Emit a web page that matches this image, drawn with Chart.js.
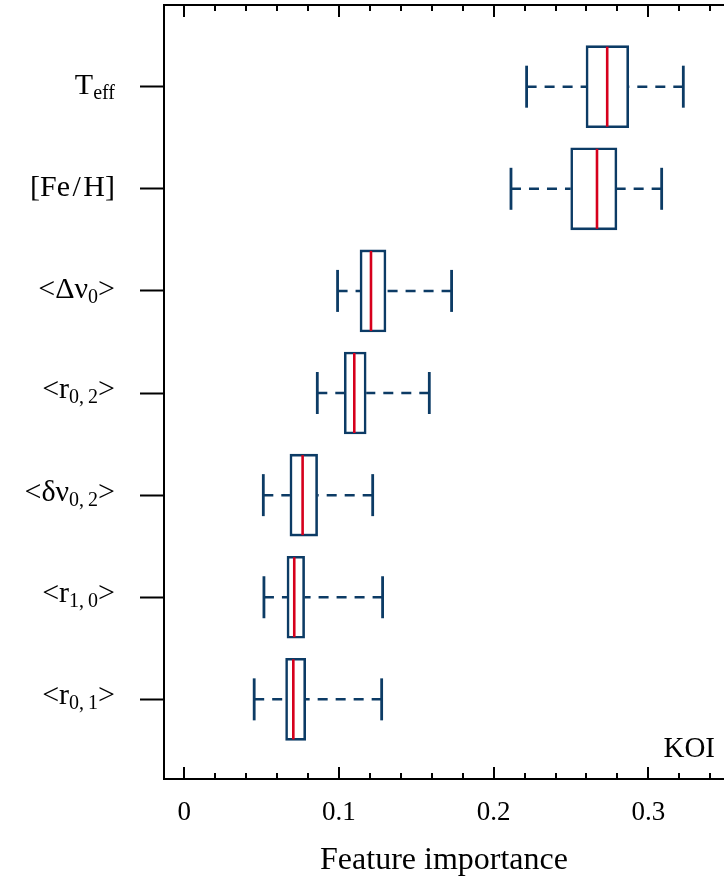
<!DOCTYPE html>
<html><head><meta charset="utf-8">
<script src="https://cdn.jsdelivr.net/npm/chart.js@4.4.1/dist/chart.umd.min.js"></script>
<style>html,body{margin:0;padding:0;background:#fff;overflow:hidden}canvas{display:block}</style>
</head><body>
<canvas id="c" width="724" height="884"></canvas>
<script>
// ---- data ----
const categories = ['Teff', '[Fe/H]', '<Δν0>', '<r0,2>', '<δν0,2>', '<r1,0>', '<r0,1>'];
const labelMain  = ['T', '[Fe\u200A/\u200AH]', '<Δν', '<r', '<δν', '<r', '<r'];
const labelSub   = ['eff', '', '0', '0,\u20092', '0,\u20092', '1,\u20090', '0,\u20091'];
const labelTail  = ['', '', '>', '>', '>', '>', '>'];
const whiskerLow  = [0.2213, 0.2112, 0.0991, 0.0860, 0.0511, 0.0515, 0.0452];
const q1          = [0.2597, 0.2498, 0.1136, 0.1034, 0.0683, 0.0664, 0.0655];
const median      = [0.2734, 0.2668, 0.1207, 0.1099, 0.0765, 0.0711, 0.0705];
const q3          = [0.2873, 0.2797, 0.1304, 0.1176, 0.0862, 0.0778, 0.0785];
const whiskerHigh = [0.3226, 0.3086, 0.1728, 0.1584, 0.1218, 0.1282, 0.1276];
const xTickValues = [0, 0.1, 0.2, 0.3];
const xTickLabels = ['0', '0.1', '0.2', '0.3'];
const xMinorStep = 0.02;
const xTitle = 'Feature importance';
const panelLabel = 'KOI';

// ---- styling ----
const NAVY = '#0c3b65';
const RED = '#d6001c';
const FONT = "'Liberation Serif', 'Times New Roman', serif";
const XMIN = -0.0131, XMAX = 0.3489;

const datasets = [];
datasets.push({
  type: 'bar', indexAxis: 'y', order: 3,
  data: categories.map((c, i) => ({ x: [q1[i], q3[i]], y: i })),
  backgroundColor: '#ffffff', borderColor: NAVY, borderWidth: 2.6,
  borderSkipped: false, barThickness: 82
});
categories.forEach((c, i) => {
  [[whiskerLow[i], q1[i]], [whiskerHigh[i], q3[i]]].forEach(seg => {
    datasets.push({
      type: 'scatter', showLine: true, order: 4,
      data: [{ x: seg[0], y: i }, { x: seg[1], y: i }],
      borderColor: NAVY, borderWidth: 2.5, borderDash: [10, 8],
      pointRadius: 0
    });
  });
});
datasets.push({
  type: 'scatter', order: 2,
  data: categories.flatMap((c, i) => [{ x: whiskerLow[i], y: i }, { x: whiskerHigh[i], y: i }]),
  pointStyle: 'line', pointRotation: 90, pointRadius: 21,
  pointBorderColor: NAVY, pointBorderWidth: 2.8, pointBackgroundColor: NAVY
});
datasets.push({
  type: 'scatter', order: 1,
  data: categories.map((c, i) => ({ x: median[i], y: i })),
  pointStyle: 'line', pointRotation: 90, pointRadius: 40,
  pointBorderColor: RED, pointBorderWidth: 2.6, pointBackgroundColor: RED
});

const zeroPad = s => { s.paddingLeft = 0; s.paddingRight = 0; s.paddingTop = 0; s.paddingBottom = 0; };

const decorPlugin = {
  id: 'decor',
  afterDraw(chart) {
    const { ctx, chartArea } = chart;
    const xs = chart.scales.x, ys = chart.scales.y;
    ctx.save();
    // inward minor/major ticks on top and bottom x axes
    ctx.strokeStyle = '#000'; ctx.lineWidth = 2;
    const n = Math.floor(XMAX / xMinorStep + 1e-9);
    for (let k = 0; k <= n; k++) {
      const v = k * xMinorStep;
      const px = Math.round(xs.getPixelForValue(v));
      const len = (k % 5 === 0) ? 12 : 6;
      ctx.beginPath();
      ctx.moveTo(px, chartArea.bottom); ctx.lineTo(px, chartArea.bottom - len);
      ctx.moveTo(px, chartArea.top); ctx.lineTo(px, chartArea.top + len);
      ctx.stroke();
    }
    // y category labels with subscripts, bbox-centred on the tick
    ctx.fillStyle = '#000';
    ctx.textBaseline = 'alphabetic';
    ctx.textAlign = 'left';
    const mainFont = '30px ' + FONT, subFont = '20px ' + FONT;
    const SHIFT = 5;
    categories.forEach((c, i) => {
      const y = ys.getPixelForValue(i);
      let A = 0, D = 0;
      ctx.font = mainFont;
      const m1 = ctx.measureText(labelMain[i]), m3 = ctx.measureText(labelTail[i]);
      A = Math.max(m1.actualBoundingBoxAscent, m3.actualBoundingBoxAscent || 0);
      D = Math.max(m1.actualBoundingBoxDescent, m3.actualBoundingBoxDescent || 0);
      ctx.font = subFont;
      const m2 = ctx.measureText(labelSub[i]);
      if (labelSub[i]) {
        A = Math.max(A, m2.actualBoundingBoxAscent - SHIFT);
        D = Math.max(D, m2.actualBoundingBoxDescent + SHIFT);
      }
      const w1 = m1.width, w2 = m2.width, w3 = m3.width;
      const right = 115;
      let x = right - (w1 + w2 + w3);
      const base = y + (A - D) / 2;
      ctx.font = mainFont; ctx.fillText(labelMain[i], x, base); x += w1;
      ctx.font = subFont; ctx.fillText(labelSub[i], x, base + SHIFT); x += w2;
      ctx.font = mainFont; ctx.fillText(labelTail[i], x, base);
    });
    // panel label
    ctx.font = '29px ' + FONT;
    ctx.textAlign = 'right';
    ctx.fillText(panelLabel, 715, 757);
    ctx.restore();
  }
};

new Chart(document.getElementById('c'), {
  type: 'scatter',
  data: { datasets },
  options: {
    responsive: false, animation: false, events: [],
    layout: { padding: 0, autoPadding: false },
    plugins: { legend: { display: false }, tooltip: { enabled: false } },
    scales: {
      x: {
        type: 'linear', position: 'bottom', min: XMIN, max: XMAX, offset: false,
        afterBuildTicks: s => { s.ticks = xTickValues.map(v => ({ value: v })); },
        afterFit: s => { s.height = 105; zeroPad(s); },
        ticks: {
          callback: (v, i) => xTickLabels[i], color: '#000', autoSkip: false,
          maxRotation: 0, padding: 18, font: { family: FONT, size: 27 }
        },
        grid: { drawOnChartArea: false, drawTicks: false, offset: false },
        border: { display: true, color: '#000', width: 2 },
        title: { display: true, text: xTitle, color: '#000', font: { family: FONT, size: 32 }, padding: { top: 0, bottom: 4 } }
      },
      x2: {
        type: 'linear', position: 'top', min: XMIN, max: XMAX, offset: false,
        afterFit: s => { s.height = 5; zeroPad(s); },
        ticks: { display: false },
        grid: { drawOnChartArea: false, drawTicks: false, offset: false },
        border: { display: true, color: '#000', width: 2 }
      },
      y: {
        type: 'linear', position: 'left', min: -0.8, max: 6.78, reverse: true, offset: false,
        afterBuildTicks: s => { s.ticks = categories.map((c, i) => ({ value: i })); },
        afterFit: s => { s.width = 164; zeroPad(s); },
        ticks: { display: false },
        grid: { drawOnChartArea: false, drawTicks: true, tickLength: 24, tickWidth: 2, tickColor: '#000', offset: false },
        border: { display: true, color: '#000', width: 2 }
      }
    }
  },
  plugins: [decorPlugin]
});
</script>
</body></html>
